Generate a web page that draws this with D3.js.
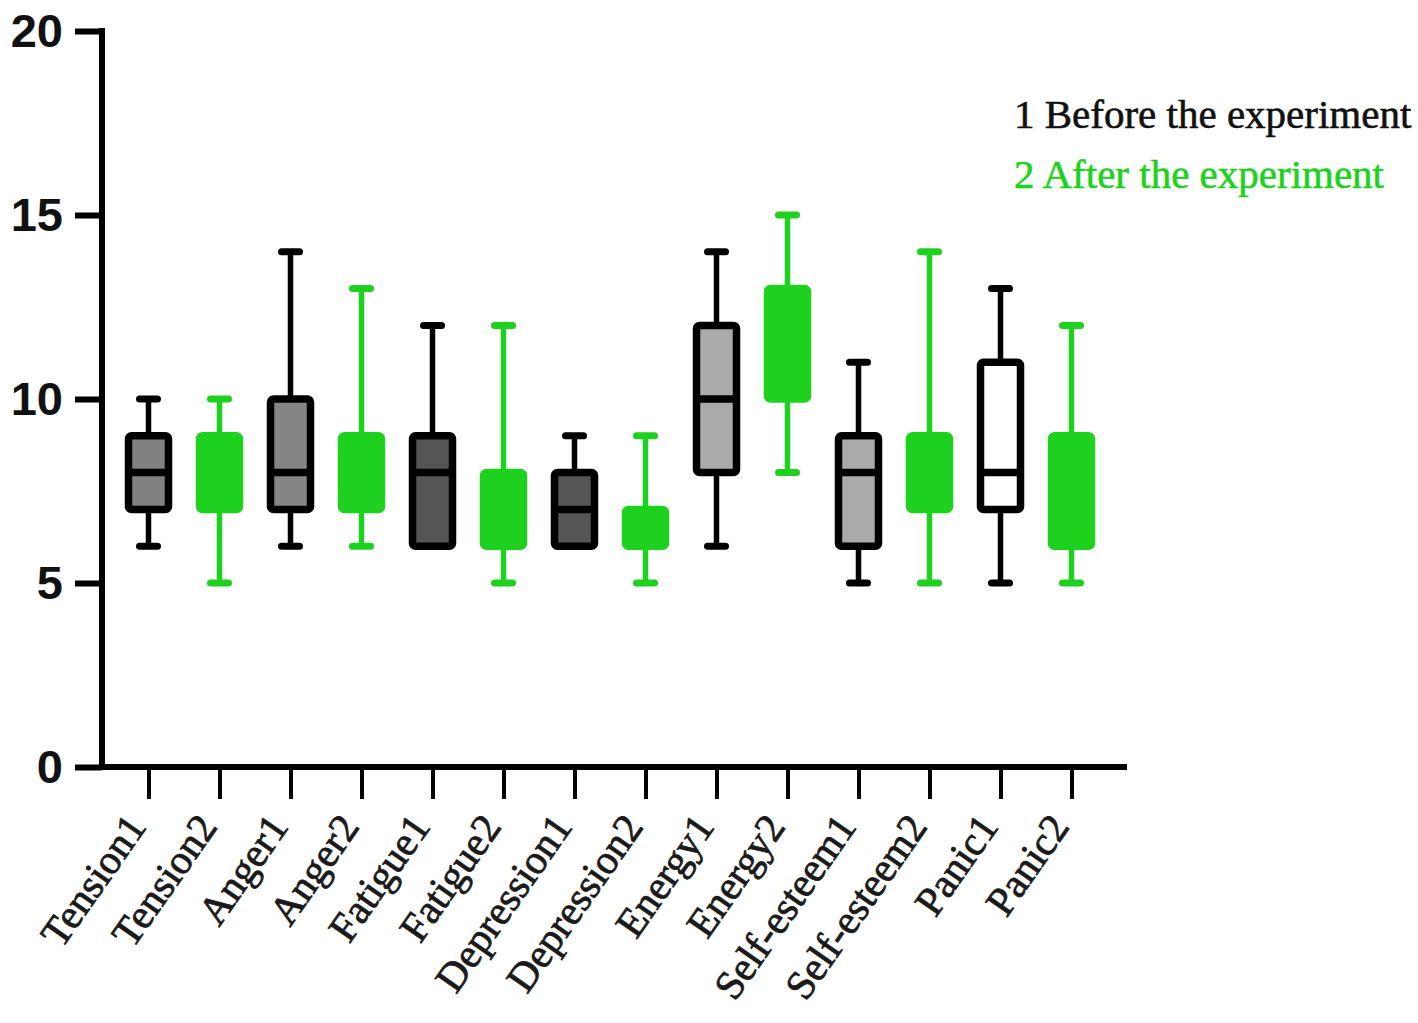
<!DOCTYPE html>
<html>
<head>
<meta charset="utf-8">
<script src="https://cdn.jsdelivr.net/npm/d3@7"></script>
<style>
  body { margin: 0; background: #fff; }
  svg { display: block; }
</style>
</head>
<body>
<svg id="chart" width="1418" height="1023"></svg>
<script>
// Data
const categories = ['Tension1', 'Tension2', 'Anger1', 'Anger2', 'Fatigue1', 'Fatigue2',
  'Depression1', 'Depression2', 'Energy1', 'Energy2', 'Self-esteem1', 'Self-esteem2', 'Panic1', 'Panic2'];
const mins    = [6, 5, 6, 6, 6, 5, 6, 5, 6, 8, 5, 5, 5, 5];
const q1s     = [7, 7, 7, 7, 6, 6, 6, 6, 8, 10, 6, 7, 7, 6];
const medians = [8, 8, 8, 8, 8, 7, 7, 6.5, 10, 11, 8, 8, 8, 7];
const q3s     = [9, 9, 10, 9, 9, 8, 8, 7, 12, 13, 9, 9, 11, 9];
const maxs    = [10, 10, 14, 13, 12, 12, 9, 9, 14, 15, 11, 14, 13, 12];
const groups  = [1, 2, 1, 2, 1, 2, 1, 2, 1, 2, 1, 2, 1, 2];
const yTicks  = [0, 5, 10, 15, 20];
const legendLabels = ['1 Before the experiment', '2 After the experiment'];

const green = '#1fd11f';
const beforeFills = {
  'Tension1': '#808080', 'Anger1': '#858585', 'Fatigue1': '#555555', 'Depression1': '#555555',
  'Energy1': '#aaaaaa', 'Self-esteem1': '#aaaaaa', 'Panic1': '#ffffff'
};

const svg = d3.select('#chart');

const y = d3.scaleLinear().domain([0, 20]).range([767, 31]);
const x = d3.scalePoint().domain(categories).range([113, 1107]).padding(0.5);

const rows = categories.map((c, i) => ({
  name: c, min: mins[i], q1: q1s[i], median: medians[i], q3: q3s[i], max: maxs[i], group: groups[i]
}));

// y axis
const yAxis = svg.append('g')
  .attr('transform', 'translate(102,0)')
  .call(d3.axisLeft(y).tickValues(yTicks).tickSize(27).tickPadding(12));
yAxis.select('.domain').remove();
yAxis.selectAll('.tick line').attr('stroke', '#000').attr('stroke-width', 6);
yAxis.selectAll('.tick text')
  .attr('font-family', '"Liberation Sans", Arial, sans-serif')
  .attr('font-weight', 'bold')
  .attr('font-size', 47)
  .attr('fill', '#111');
svg.append('line')
  .attr('x1', 102).attr('x2', 102)
  .attr('y1', y(20) - 3).attr('y2', y(0) + 3)
  .attr('stroke', '#000').attr('stroke-width', 6);

// x axis
const xAxis = svg.append('g')
  .attr('transform', `translate(0,${y(0)})`)
  .call(d3.axisBottom(x).tickSize(32).tickFormat(''));
xAxis.select('.domain').remove();
xAxis.selectAll('.tick line').attr('stroke', '#000').attr('stroke-width', 4);
svg.append('line')
  .attr('x1', 99).attr('x2', 1127)
  .attr('y1', y(0)).attr('y2', y(0))
  .attr('stroke', '#000').attr('stroke-width', 6);

svg.append('g').selectAll('text')
  .data(categories)
  .join('text')
  .attr('transform', d => `translate(${x(d) - 1},${y(0) + 60}) rotate(-55)`)
  .attr('text-anchor', 'end')
  .attr('font-family', '"Liberation Serif", "Times New Roman", serif')
  .attr('font-size', 41)
  .attr('fill', '#1a1a1a')
  .attr('stroke', '#1a1a1a')
  .attr('stroke-width', 0.8)
  .text(d => d);

// boxes
const boxW = 40;
const capW = 18;
const box = svg.append('g').selectAll('g')
  .data(rows)
  .join('g');

box.each(function(d) {
  const g = d3.select(this);
  const cx = x(d.name);
  const col = d.group === 1 ? '#000' : green;
  const fill = d.group === 1 ? beforeFills[d.name] : green;

  // whiskers
  g.append('line')
    .attr('x1', cx).attr('x2', cx)
    .attr('y1', y(d.q3)).attr('y2', y(d.max))
    .attr('stroke', col).attr('stroke-width', 5.5);
  g.append('line')
    .attr('x1', cx).attr('x2', cx)
    .attr('y1', y(d.q1)).attr('y2', y(d.min))
    .attr('stroke', col).attr('stroke-width', 5.5);
  [d.min, d.max].forEach(v => {
    g.append('line')
      .attr('x1', cx - capW / 2).attr('x2', cx + capW / 2)
      .attr('y1', y(v)).attr('y2', y(v))
      .attr('stroke', col).attr('stroke-width', 7)
      .attr('stroke-linecap', 'round');
  });

  // box
  g.append('rect')
    .attr('x', cx - boxW / 2)
    .attr('y', y(d.q3))
    .attr('width', boxW)
    .attr('height', y(d.q1) - y(d.q3))
    .attr('rx', 3)
    .attr('fill', fill)
    .attr('stroke', col)
    .attr('stroke-width', 7.5);

  // median
  g.append('line')
    .attr('x1', cx - boxW / 2).attr('x2', cx + boxW / 2)
    .attr('y1', y(d.median)).attr('y2', y(d.median))
    .attr('stroke', col).attr('stroke-width', 7.5);
});

// legend
svg.append('g').selectAll('text')
  .data(legendLabels)
  .join('text')
  .attr('x', 1014)
  .attr('y', (d, i) => 128 + i * 60)
  .attr('font-family', '"Liberation Serif", "Times New Roman", serif')
  .attr('font-size', 41)
  .attr('fill', (d, i) => i === 0 ? '#111' : green)
  .attr('stroke', (d, i) => i === 0 ? '#111' : green)
  .attr('stroke-width', 0.6)
  .text(d => d);
</script>
</body>
</html>
